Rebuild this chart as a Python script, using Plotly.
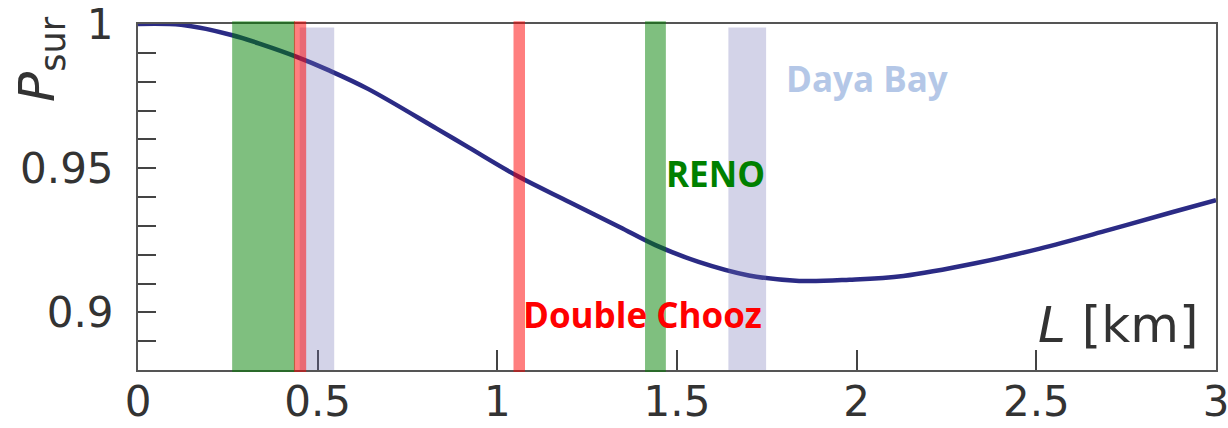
import plotly.graph_objects as go

# Survival probability curve
L_km = [0.0, 0.12, 0.26, 0.35, 0.44, 0.53, 0.64, 0.83, 0.92, 1.06, 1.20, 1.34,
        1.44, 1.56, 1.70, 1.84, 1.98, 2.13, 2.33, 2.51, 2.70, 2.88, 3.0]
P_sur = [1.0, 0.9997, 0.9962, 0.9927, 0.9887, 0.9840, 0.9775, 0.9638, 0.9572,
         0.9470, 0.9383, 0.9296, 0.9233, 0.9175, 0.9128, 0.9109, 0.9113, 0.9126,
         0.9170, 0.9221, 0.9285, 0.9348, 0.9389]

# Experiment baseline bands (L ranges in km)
dayabay_bands = [(0.45, 0.546), (1.643, 1.748)]
reno_bands = [(0.262, 0.437), (1.411, 1.469)]
dchooz_bands = [(0.434, 0.468), (1.045, 1.077)]

x_tickvals = [0, 0.5, 1, 1.5, 2, 2.5, 3]
x_ticktext = ["0", "0.5", "1", "1.5", "2", "2.5", "3"]
y_tickvals = [0.89, 0.90, 0.91, 0.92, 0.93, 0.94, 0.95, 0.96, 0.97, 0.98, 0.99, 1.0]
y_ticktext = ["", "0.9", "", "", "", "", "0.95", "", "", "", "", "1"]

fig = go.Figure()
fig.add_trace(go.Scatter(x=L_km, y=P_sur, mode="lines", line_shape="spline",
                         line=dict(color="#2b2b85", width=4.5), showlegend=False,
                         hoverinfo="skip"))

def band(x0, x1, color, y0=-0.006, y1=1.008):
    fig.add_shape(type="rect", xref="x", yref="y domain", x0=x0, x1=x1, y0=y0, y1=y1,
                  fillcolor=color, line=dict(width=0), layer="above")

for a, b in dayabay_bands:
    band(a, b, "rgba(110,110,180,0.30)", 0.0, 0.99)
for a, b in reno_bands:
    band(a, b, "rgba(0,128,0,0.5)")
for a, b in dchooz_bands:
    band(a, b, "rgba(255,0,0,0.5)")

lab_font = dict(family="Open Sans", size=35, weight=700)
fig.add_annotation(x=2.029, y=0.981, xref="x", yref="y", text="Daya Bay", showarrow=False,
                   font=dict(lab_font, color="#b4c7e7"), xanchor="center", yanchor="middle")
fig.add_annotation(x=1.607, y=0.9483, xref="x", yref="y", text="RENO", showarrow=False,
                   font=dict(lab_font, color="#008000"), xanchor="center", yanchor="middle")
fig.add_annotation(x=1.404, y=0.8993, xref="x", yref="y", text="Double Chooz", showarrow=False,
                   font=dict(lab_font, color="#ff0000"), xanchor="center", yanchor="middle")

fig.add_annotation(x=2.726, y=0.8956, xref="x", yref="y", text="<i>L</i> [km]", showarrow=False,
                   font=dict(family="DejaVu Sans", size=50, color="#333333"),
                   xanchor="center", yanchor="middle")
fig.add_annotation(x=-0.090, y=0.899, xref="paper", yref="paper",
                   text="<i>P</i><sub>sur</sub>", showarrow=False, textangle=-90,
                   font=dict(family="DejaVu Sans", size=50, color="#333333"),
                   xanchor="center", yanchor="middle")

fig.update_xaxes(range=[0, 3], tickvals=x_tickvals, ticktext=x_ticktext,
                 ticks="inside", ticklen=20, tickwidth=2, tickcolor="#444444",
                 showline=True, linecolor="#555555", linewidth=2, mirror=True,
                 showgrid=False, zeroline=False, ticklabelstandoff=-6,
                 automargin=False, ticklabeloverflow="allow",
                 tickfont=dict(family="DejaVu Sans", size=42, color="#333333"))
fig.update_yaxes(range=[0.88, 1.0], tickvals=y_tickvals, ticktext=y_ticktext,
                 ticks="inside", ticklen=18, tickwidth=2, tickcolor="#444444",
                 showline=True, linecolor="#555555", linewidth=2, mirror=True,
                 showgrid=False, zeroline=False, ticklabelstandoff=14,
                 automargin=False, ticklabeloverflow="allow",
                 tickfont=dict(family="DejaVu Sans", size=42, color="#333333"))

fig.update_layout(width=1228, height=428, margin=dict(l=138, r=12, t=24, b=58),
                  paper_bgcolor="white", plot_bgcolor="white")

fig.write_html("out.html")
